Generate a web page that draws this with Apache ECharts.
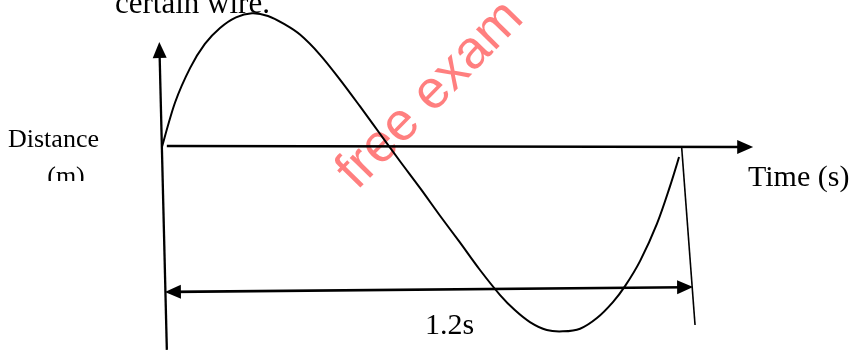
<!DOCTYPE html>
<html>
<head>
<meta charset="utf-8">
<title>Distance - time</title>
<script src="https://cdn.jsdelivr.net/npm/echarts@6.0.0/dist/echarts.min.js"></script>
<style>
    html, body { margin: 0; padding: 0; background: #fff; }
    #chart { width: 858px; height: 350px; }
</style>
</head>
<body>
<div id="chart"></div>
<script>
// wave: time in s, distance in arbitrary units (peak = 1)
const timeSec = [0, 0.030, 0.065, 0.099, 0.134, 0.171, 0.208, 0.245, 0.282, 0.319,
    0.365, 0.412, 0.458, 0.504, 0.550, 0.597, 0.643, 0.689, 0.735, 0.782,
    0.816, 0.851, 0.890, 0.927, 0.967, 1.006, 1.043, 1.071, 1.106, 1.145, 1.175, 1.196];
const distance = [0, 0.33, 0.59, 0.77, 0.89, 0.97, 1.00, 0.98, 0.92, 0.84,
    0.69, 0.50, 0.300, 0.095, -0.110, -0.314, -0.521, -0.722, -0.927, -1.117,
    -1.23, -1.32, -1.38, -1.39, -1.37, -1.29, -1.17, -1.05, -0.86, -0.58, -0.30, -0.08];

// hand drawn axes and the period marker, [time, distance] end points
const distanceAxis = [[0.011, -1.529], [-0.006, 0.724]];
const timeAxis = [[0.011, 0.003], [1.349, -0.005]];
const periodEnd = [[1.202, -0.005], [1.233, -1.342]];
const periodArrow = [[0.025, -1.093], [1.210, -1.058]];

const periodLabel = '1.2s';

const chart = echarts.init(document.getElementById('chart'));

function serifText(text, left, baseline, size, align) {
    return {
        type: 'text',
        x: left,
        y: baseline - 0.3 * size,
        style: {
            text: text,
            font: size + 'px "Liberation Serif"',
            fill: '#000',
            align: align || 'left',
            verticalAlign: 'middle'
        }
    };
}

function arrowLine(pts, width, startArrow, endArrow) {
    const head = { symbol: 'triangle', symbolSize: [14, 16] };
    const none = { symbol: 'none' };
    return [
        Object.assign({ coord: pts[0], lineStyle: { width: width } }, startArrow ? head : none),
        Object.assign({ coord: pts[1] }, endArrow ? head : none)
    ];
}

// the line series' own smoothing flattens peaks, so go through the
// points with a catmull-rom curve instead
function renderWave(params, api) {
    if (params.dataIndexInside !== 0) {
        return null;
    }
    const p = timeSec.map((t, i) => api.coord([t, distance[i]]));
    const n = p.length;
    let d = 'M' + p[0][0] + ' ' + p[0][1];
    for (let i = 0; i < n - 1; i++) {
        const a = p[Math.max(i - 1, 0)];
        const b = p[i];
        const c = p[i + 1];
        const e = p[Math.min(i + 2, n - 1)];
        d += ' C' + (b[0] + (c[0] - a[0]) / 6) + ' ' + (b[1] + (c[1] - a[1]) / 6) +
            ' ' + (c[0] - (e[0] - b[0]) / 6) + ' ' + (c[1] - (e[1] - b[1]) / 6) +
            ' ' + c[0] + ' ' + c[1];
    }
    return {
        type: 'path',
        shape: { pathData: d },
        style: { fill: 'none', stroke: '#000', lineWidth: 2 }
    };
}

chart.setOption({
    backgroundColor: '#fff',
    animation: false,
    grid: { left: 0, right: 0, top: 0, bottom: 0, containLabel: false },
    xAxis: {
        type: 'value',
        min: -0.375,
        max: 1.61,
        show: false
    },
    yAxis: {
        type: 'value',
        min: -1.53,
        max: 1.1,
        show: false
    },
    graphic: [
        {
            type: 'text',
            x: 358,
            y: 192,
            rotation: 45.5 * Math.PI / 180,
            style: {
                text: 'free exam',
                x: 0,
                y: -0.3 * 54,
                font: '54px "Liberation Sans"',
                fill: 'rgba(255, 0, 0, 0.5)',
                verticalAlign: 'middle'
            }
        },
        serifText('certain wire.', 115, 14, 31),
        serifText('Distance', 8, 148, 26),
        serifText('(m)', 66, 185, 26, 'center'),
        {
            // the source text box cuts the unit label off
            type: 'rect',
            shape: { x: 40, y: 181, width: 60, height: 20 },
            style: { fill: '#fff' }
        },
        serifText('Time (s)', 748, 187, 30),
        serifText(periodLabel, 425, 335, 30)
    ],
    series: [
        {
            type: 'custom',
            data: timeSec.map((t, i) => [t, distance[i]]),
            encode: { x: 0, y: 1 },
            renderItem: renderWave,
            clip: false,
            silent: true,
            markLine: {
                silent: true,
                symbol: 'none',
                label: { show: false },
                emphasis: { disabled: true },
                lineStyle: { type: 'solid', color: '#000' },
                data: [
                    arrowLine(distanceAxis, 2.3, false, true),
                    arrowLine(timeAxis, 2.6, false, true),
                    arrowLine(periodEnd, 1.6, false, false),
                    arrowLine(periodArrow, 2.6, true, true)
                ]
            }
        }
    ]
});
</script>
</body>
</html>
